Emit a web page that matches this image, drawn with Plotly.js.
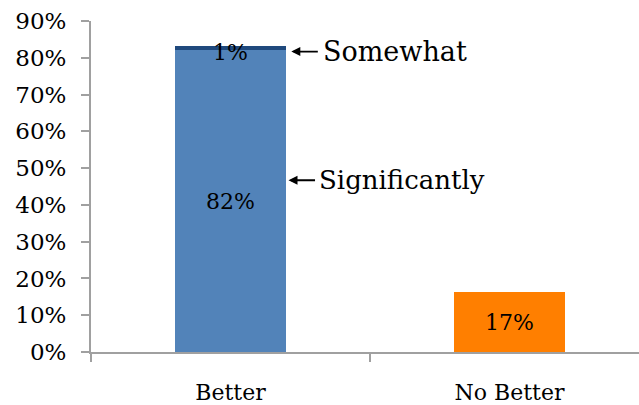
<!DOCTYPE html>
<html>
<head>
<meta charset="utf-8">
<script src="https://cdn.plot.ly/plotly-3.0.1.min.js"></script>
<style>html,body{margin:0;padding:0;background:#fff;}#chart{width:639px;height:405px;}</style>
</head>
<body>
<div id="chart"></div>
<script>
var categories = ["Better", "No Better"];
var significantly = [82];
var somewhat = [1.3];
var noBetter = [16.2];
var significantlyLabels = ["82%"];
var somewhatLabels = ["1%"];
var noBetterLabels = ["17%"];
var yTickValues = [0, 10, 20, 30, 40, 50, 60, 70, 80, 90];
var yTickLabels = ["0%", "10%", "20%", "30%", "40%", "50%", "60%", "70%", "80%", "90%"];
var annotationTexts = ["Somewhat", "Significantly"];

var FONT = "DejaVu Serif, Liberation Serif, serif";

var traces = [
  {
    type: "bar", x: [categories[0]], y: significantly, width: 0.4,
    marker: {color: "#5283B9"}, text: significantlyLabels,
    textposition: "inside", insidetextanchor: "middle",
    textfont: {family: FONT, size: 22, color: "#000"}, hoverinfo: "none"
  },
  {
    type: "bar", x: [categories[0]], y: somewhat, width: 0.4,
    marker: {color: "#1F497D"}, textposition: "none", hoverinfo: "none"
  },
  {
    type: "bar", x: [categories[1]], y: noBetter, width: 0.4,
    marker: {color: "#FF7F00"}, text: noBetterLabels,
    textposition: "inside", insidetextanchor: "middle",
    textfont: {family: FONT, size: 22, color: "#000"}, hoverinfo: "none"
  }
];

var topBetter = significantly[0] + somewhat[0];
var barRight = 0.2;

var annotations = [
  {x: 0, y: topBetter, xref: "x", yref: "y", text: somewhatLabels[0], showarrow: false,
   yanchor: "middle", yshift: -7, font: {family: FONT, size: 22, color: "#000"}},
  {x: barRight + 0.018, y: topBetter - 1.6, xref: "x", yref: "y", text: "", showarrow: true,
   ax: 28, ay: 0, axref: "pixel", ayref: "pixel", arrowhead: 2, arrowsize: 1, arrowwidth: 1.8, arrowcolor: "#000"},
  {x: barRight + 0.018, y: topBetter - 1.6, xref: "x", yref: "y", text: annotationTexts[0], showarrow: false,
   xanchor: "left", yanchor: "middle", xshift: 30, font: {family: FONT, size: 27, color: "#000"}},
  {x: barRight + 0.008, y: 46.7, xref: "x", yref: "y", text: "", showarrow: true,
   ax: 28, ay: 0, axref: "pixel", ayref: "pixel", arrowhead: 2, arrowsize: 1, arrowwidth: 1.8, arrowcolor: "#000"},
  {x: barRight + 0.008, y: 46.7, xref: "x", yref: "y", text: annotationTexts[1], showarrow: false,
   xanchor: "left", yanchor: "middle", xshift: 28, font: {family: FONT, size: 26, color: "#000"}}
];

var layout = {
  width: 639, height: 405,
  margin: {l: 91, r: 0, t: 21, b: 53, pad: 0},
  paper_bgcolor: "#fff", plot_bgcolor: "#fff",
  barmode: "stack", showlegend: false,
  font: {family: FONT, color: "#000"},
  xaxis: {
    type: "category", categoryorder: "array", categoryarray: categories,
    range: [-0.5, -0.5 + 548 / 279],
    showline: true, linecolor: "#A0A0A0", linewidth: 2,
    ticks: "outside", tickson: "boundaries", ticklen: 8, tickwidth: 2, tickcolor: "#A0A0A0",
    tickfont: {family: FONT, size: 22, color: "#000"},
    ticklabelstandoff: 20,
    showgrid: false, zeroline: false, fixedrange: true
  },
  yaxis: {
    range: [0, 90], tickvals: yTickValues, ticktext: yTickLabels,
    showline: true, linecolor: "#A0A0A0", linewidth: 2,
    ticks: "outside", ticklen: 8, tickwidth: 2, tickcolor: "#A0A0A0",
    tickfont: {family: FONT, size: 23, color: "#000"},
    ticklabelstandoff: 10,
    showgrid: false, zeroline: false, fixedrange: true
  },
  annotations: annotations
};

Plotly.newPlot("chart", traces, layout, {displayModeBar: false, staticPlot: true});
</script>
</body>
</html>
